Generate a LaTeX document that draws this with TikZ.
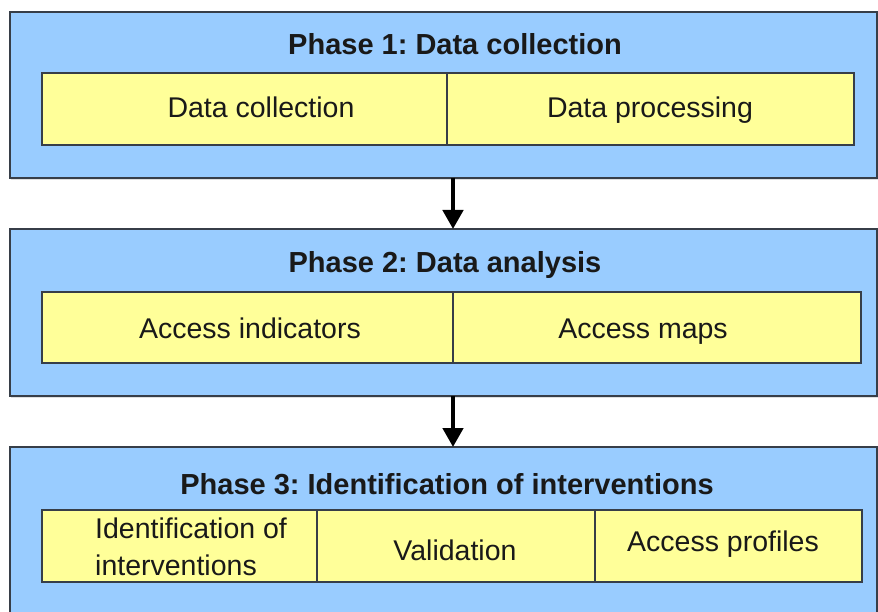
\documentclass[tikz,border=0pt]{standalone}
\usepackage{fontspec}
\setmainfont{Liberation Sans}
\usetikzlibrary{arrows.meta,shadows}
\frenchspacing

\definecolor{phaseblue}{HTML}{99CCFF}
\definecolor{cellyellow}{HTML}{FFFF99}
\definecolor{edgegray}{RGB}{55,62,72}

\tikzset{
  phasebox/.style={draw=edgegray, line width=1.5pt, fill=phaseblue,
    rectangle, inner sep=0pt, outer sep=0pt, anchor=north west,
    drop shadow={shadow xshift=1pt, shadow yshift=-2pt, opacity=.25}},
  cellbox/.style={draw=edgegray, line width=1.4pt, fill=cellyellow,
    rectangle, inner sep=0pt, outer sep=0pt, anchor=north west},
  phasetitle/.style={font=\fontsize{29}{33}\selectfont\bfseries, text=black!90,
    inner sep=0pt, anchor=base},
  celltext/.style={font=\fontsize{28.5}{37}\selectfont, text=black!90,
    inner sep=0pt, anchor=base},
  flow/.style={line width=4.5pt, -{Triangle[width=20pt,length=19pt]}, black},
}

\begin{document}
\begin{tikzpicture}[x=1pt,y=-1pt]
\useasboundingbox (0,0) rectangle (878,612);
\fill[white] (0,0) rectangle (878,612);

% phase containers
\node[phasebox, minimum width=867pt, minimum height=166pt] (p1) at (10,12) {};
\node[phasebox, minimum width=867pt, minimum height=167pt] (p2) at (10,229) {};
\node[phasebox, minimum width=867pt, minimum height=168pt] (p3) at (10,447) {};

% phase 1 cells
\node[cellbox, minimum width=405pt, minimum height=72pt] (c11) at (42,73) {};
\node[cellbox, minimum width=407pt, minimum height=72pt] (c12) at (447,73) {};
% phase 2 cells
\node[cellbox, minimum width=411pt, minimum height=71pt] (c21) at (42,292) {};
\node[cellbox, minimum width=408pt, minimum height=71pt] (c22) at (453,292) {};
% phase 3 cells
\node[cellbox, minimum width=275pt, minimum height=72pt] (c31) at (42,510) {};
\node[cellbox, minimum width=278pt, minimum height=72pt] (c32) at (317,510) {};
\node[cellbox, minimum width=267pt, minimum height=72pt] (c33) at (595,510) {};

% titles
\node[phasetitle] (t1) at (455,55) {Phase 1: Data collection};
\node[phasetitle] (t2) at (445,273) {Phase 2: Data analysis};
\node[phasetitle] (t3) at (447,494) {Phase 3: Identification of interventions};

% cell labels (the two-line label is placed by its last baseline)
\node[celltext] (l11) at (261,118) {Data collection};
\node[celltext] (l12) at (650,118) {Data processing};
\node[celltext] (l21) at (250,338) {Access indicators};
\node[celltext] (l22) at (643,338) {Access maps};
\node[celltext, align=left, anchor=base west] (l31) at (95,575) {Identification of\\interventions};
\node[celltext] (l32) at (455,560) {Validation};
\node[celltext] (l33) at (723,551) {Access profiles};

% flow between phases
\draw[flow] (p1.south -| c21.east) -- (p2.north -| c21.east);
\draw[flow] (p2.south -| c21.east) -- (p3.north -| c21.east);
\end{tikzpicture}
\end{document}
